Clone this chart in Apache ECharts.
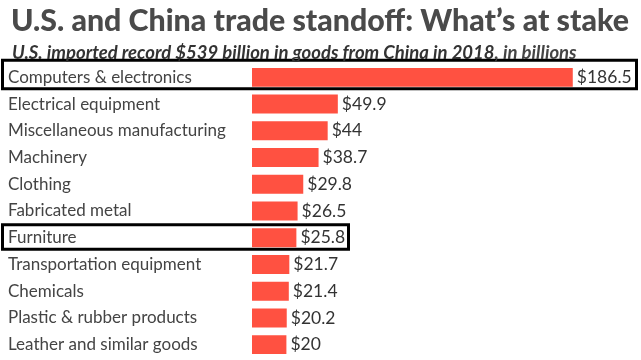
<!DOCTYPE html>
<html><head><meta charset="utf-8">
<script src="https://cdn.jsdelivr.net/npm/echarts@6/dist/echarts.min.js"></script>
<style>html,body{margin:0;padding:0;background:#fff}#c{width:641px;height:360px}</style>
</head><body><div id="c"></div>
<script>
const categories = ["Computers & electronics","Electrical equipment","Miscellaneous manufacturing","Machinery","Clothing","Fabricated metal","Furniture","Transportation equipment","Chemicals","Plastic & rubber products","Leather and similar goods"];
const values = [186.5,49.9,44,38.7,29.8,26.5,25.8,21.7,21.4,20.2,20];
const highlighted = ["Computers & electronics","Furniture"];
const titleText = "U.S. and China trade standoff: What\u2019s at stake";
const subMain = "U.S. imported record $539 billion in goods from China in 2018";
const subUnit = ", in billions";

const chart = echarts.init(document.getElementById('c'), null, {renderer:'canvas'});
chart.setOption({
  animation:false,
  backgroundColor:'#fff',
  title:[
    {text:titleText,left:6,top:1,textStyle:{fontFamily:'Lato',fontSize:30.3,fontWeight:900,color:'#4a4a4a'}},
    {text:'{a|'+subMain+'}{b|'+subUnit+'}',left:7,top:39,textStyle:{rich:{
      a:{fontFamily:'Lato',fontSize:18.5,fontStyle:'italic',fontWeight:'bold',color:'#333'},
      b:{fontFamily:'Lato',fontSize:18.5,fontStyle:'italic',color:'#444'}}}}
  ],
  grid:{left:252,right:45,top:64,bottom:2,containLabel:false},
  xAxis:{type:'value',min:0,max:200,show:false},
  yAxis:{type:'category',data:categories,inverse:true,
    axisLine:{show:false},axisTick:{show:false},
    axisLabel:{align:'left',margin:244,fontFamily:'Lato',fontSize:17,color:'#444'}},
  series:[{type:'bar',data:values,barCategoryGap:'29%',
    itemStyle:{color:'#ff5141'},
    label:{show:true,position:'right',distance:4,fontFamily:'Lato',fontSize:17.5,color:'#333',
      formatter:p=>'$'+p.value}}]
});
const boxes = [];
const y0 = chart.convertToPixel({yAxisIndex:0}, highlighted[0]);
boxes.push({type:'rect',shape:{x:2.5,y:y0-17,width:634,height:28.5},style:{fill:null,stroke:'#000',lineWidth:3}});
const y1 = chart.convertToPixel({yAxisIndex:0}, highlighted[1]);
boxes.push({type:'rect',shape:{x:2.5,y:y1-13,width:346,height:24.5},style:{fill:null,stroke:'#000',lineWidth:3}});
chart.setOption({graphic:boxes});
</script></body></html>
